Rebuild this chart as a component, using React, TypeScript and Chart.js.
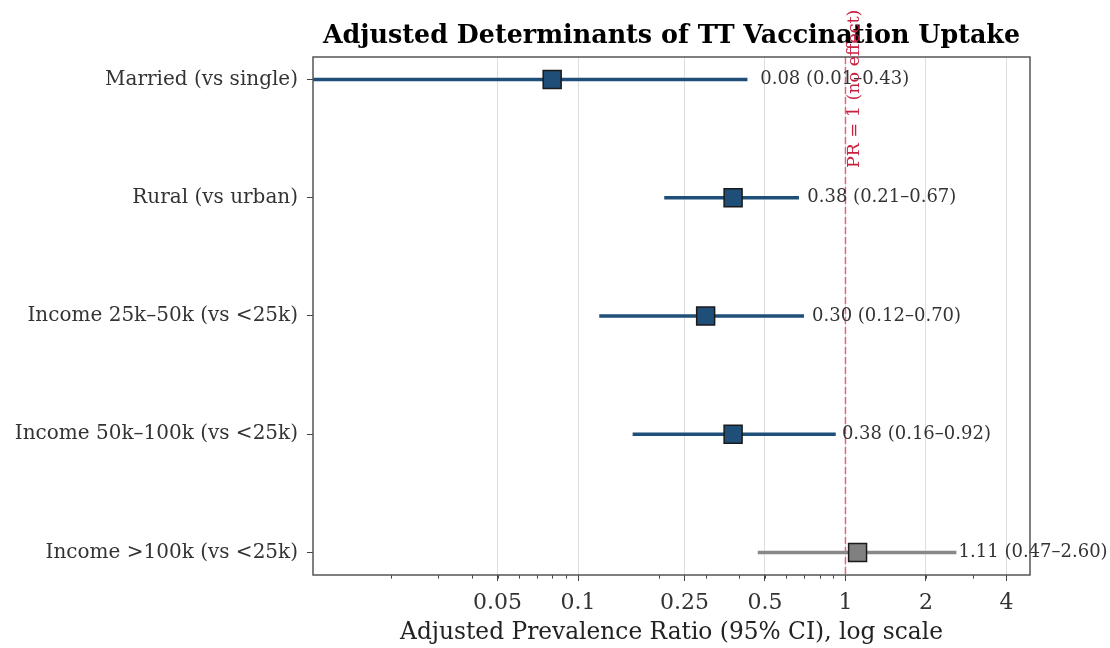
import React, { useEffect, useRef } from 'react';
import { Chart, registerables } from 'chart.js';

Chart.register(...registerables);

// ---- Data ----
const categories = [
  'Married (vs single)',
  'Rural (vs urban)',
  'Income 25k–50k (vs <25k)',
  'Income 50k–100k (vs <25k)',
  'Income >100k (vs <25k)',
];
const estimates = [0.08, 0.38, 0.3, 0.38, 1.11];
const lowerCI = [0.01, 0.21, 0.12, 0.16, 0.47];
const upperCI = [0.43, 0.67, 0.7, 0.92, 2.6];
const significant = [true, true, true, true, false];

const xTickValues = [0.05, 0.1, 0.25, 0.5, 1, 2, 4];
const xTickLabels = ['0.05', '0.1', '0.25', '0.5', '1', '2', '4'];
const minorTickValues = [
  0.02, 0.03, 0.04, 0.05, 0.06, 0.07, 0.08, 0.09,
  0.2, 0.3, 0.4, 0.5, 0.6, 0.7, 0.8, 0.9,
  2, 3, 4,
];
const referenceValue = 1;

const titleText = 'Adjusted Determinants of TT Vaccination Uptake';
const xAxisTitle = 'Adjusted Prevalence Ratio (95% CI), log scale';
const referenceLabel = 'PR = 1 (no effect)';

// ---- Styles ----
const FONT = '"DejaVu Serif", serif';
const sigColor = '#1f4e79';
const nsColor = '#888888';
const nsMarker = '#808080';
const X_MIN = 0.0102;
const X_MAX = 4.9;
const LABEL_GAP = 0.05;

const estimateLabels = estimates.map(
  (e, i) => `${e.toFixed(2)} (${lowerCI[i].toFixed(2)}–${upperCI[i].toFixed(2)})`
);

const decorPlugin = {
  id: 'decor',
  beforeDatasetsDraw(chart: any) {
    const { ctx, chartArea, scales } = chart;
    const px = scales.x.getPixelForValue(referenceValue);
    ctx.save();
    ctx.strokeStyle = 'rgba(220,20,60,0.6)';
    ctx.lineWidth = 1.5;
    ctx.setLineDash([7, 3]);
    ctx.beginPath();
    ctx.moveTo(px, chartArea.top);
    ctx.lineTo(px, chartArea.bottom);
    ctx.stroke();
    ctx.restore();
  },
  afterDatasetsDraw(chart: any) {
    const { ctx, scales } = chart;
    ctx.save();
    ctx.font = `18px ${FONT}`;
    ctx.fillStyle = '#333333';
    ctx.textAlign = 'left';
    ctx.textBaseline = 'middle';
    estimateLabels.forEach((t, i) => {
      ctx.fillText(t, scales.x.getPixelForValue(upperCI[i] + LABEL_GAP), scales.y.getPixelForValue(i));
    });
    ctx.restore();
  },
  afterDraw(chart: any) {
    const { ctx, chartArea, scales } = chart;
    const { left, top, right, bottom } = chartArea;
    ctx.save();
    // minor ticks
    ctx.strokeStyle = '#444';
    ctx.lineWidth = 1;
    minorTickValues.forEach((v) => {
      if (v < X_MIN || v > X_MAX) return;
      const px = Math.round(scales.x.getPixelForValue(v)) + 0.5;
      ctx.beginPath();
      ctx.moveTo(px, bottom);
      ctx.lineTo(px, bottom + 3.6);
      ctx.stroke();
    });
    // frame
    ctx.strokeStyle = '#555555';
    ctx.lineWidth = 1.5;
    ctx.strokeRect(left, top, right - left, bottom - top);
    // title
    ctx.fillStyle = '#000';
    ctx.font = `bold 25.4px ${FONT}`;
    ctx.textAlign = 'center';
    ctx.textBaseline = 'middle';
    ctx.fillText(titleText, (left + right) / 2, 36);
    // reference label
    const px = scales.x.getPixelForValue(referenceValue);
    ctx.translate(px + 9, top + 111);
    ctx.rotate(-Math.PI / 2);
    ctx.font = `17.5px ${FONT}`;
    ctx.fillStyle = '#c8203f';
    ctx.textAlign = 'left';
    ctx.textBaseline = 'middle';
    ctx.fillText(referenceLabel, 0, 0);
    ctx.restore();
  },
};

export default function App() {
  const ref = useRef<HTMLCanvasElement | null>(null);
  useEffect(() => {
    document.body.style.margin = '0';
    if (!ref.current) return;
    Chart.defaults.font.family = FONT;
    const ciDatasets = categories.map((c, i) => ({
      type: 'line' as const,
      label: c,
      data: [
        { x: lowerCI[i], y: i },
        { x: upperCI[i], y: i },
      ],
      borderColor: significant[i] ? sigColor : nsColor,
      borderWidth: 3.6,
      pointRadius: 0,
      borderCapStyle: 'butt',
      clip: 0,
      order: 2,
    }));
    const pointDataset = {
      type: 'scatter' as const,
      label: 'Estimate',
      data: estimates.map((e, i) => ({ x: e, y: i })),
      pointStyle: 'rect',
      pointRadius: 12.7,
      backgroundColor: significant.map((s) => (s ? sigColor : nsMarker)),
      borderColor: '#1a1a1a',
      borderWidth: 1.5,
      order: 1,
    };
    const chart = new Chart(ref.current, {
      type: 'scatter',
      data: { datasets: [pointDataset as any, ...(ciDatasets as any[])] },
      options: {
        animation: false,
        responsive: false,
        events: [],
        layout: { padding: { top: 57, right: 80, left: 0, bottom: 0 } },
        plugins: { legend: { display: false }, tooltip: { enabled: false }, title: { display: false } },
        scales: {
          x: {
            type: 'logarithmic',
            min: X_MIN,
            max: X_MAX,
            afterBuildTicks: (scale: any) => {
              scale.ticks = xTickValues.map((v) => ({ value: v }));
            },
            ticks: {
              callback: (v: any) => xTickLabels[xTickValues.indexOf(Number(v))] ?? '',
              font: { size: 22, family: FONT },
              color: '#333333',
              padding: 9,
              maxRotation: 0,
              autoSkip: false,
            },
            grid: { color: '#dddddd', lineWidth: 1, tickLength: 6, tickColor: '#444444' },
            border: { display: false },
            title: {
              display: true,
              text: xAxisTitle,
              font: { size: 23.3, family: FONT },
              color: '#222222',
              padding: { top: 0, bottom: 1 },
            },
            afterFit: (scale: any) => {
              scale.height = 73;
            },
          },
          y: {
            type: 'linear',
            min: -0.19,
            max: 4.19,
            reverse: true,
            afterBuildTicks: (scale: any) => {
              scale.ticks = categories.map((_, i) => ({ value: i }));
            },
            ticks: {
              callback: (v: any) => categories[Number(v)] ?? '',
              font: { size: 20, family: FONT },
              color: '#333333',
              padding: 9,
              autoSkip: false,
            },
            grid: { drawOnChartArea: false, tickLength: 6, tickColor: '#444444' },
            border: { display: false },
            afterFit: (scale: any) => {
              scale.width = 313;
            },
          },
        },
      },
      plugins: [decorPlugin],
    });
    return () => chart.destroy();
  }, []);
  return <canvas ref={ref} width={1110} height={648} style={{ display: 'block' }} />;
}
